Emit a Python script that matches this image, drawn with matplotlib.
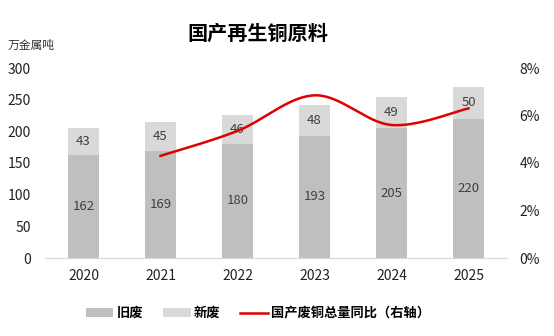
import numpy as np
import matplotlib
matplotlib.use("Agg")
import matplotlib.pyplot as plt
from matplotlib.patches import Patch
from matplotlib.lines import Line2D

plt.rcParams['font.family'] = ['Noto Sans CJK SC', 'DejaVu Sans']

years = ['2020', '2021', '2022', '2023', '2024', '2025']
old_scrap = [162, 169, 180, 193, 205, 220]
new_scrap = [43, 45, 46, 48, 49, 50]
yoy_years = ['2021', '2022', '2023', '2024', '2025']
yoy = [4.3, 5.35, 6.85, 5.6, 6.3]  # percent

fig = plt.figure(figsize=(5.54, 3.36), dpi=100)
ax = fig.add_axes([45/554, 1-258/336, 462/554, 190/336])
ax2 = ax.twinx()

x = np.arange(len(years))
w = 0.39
c_old = '#bfbfbf'
c_new = '#d9d9d9'
ax.bar(x, old_scrap, width=w, color=c_old, zorder=2)
ax.bar(x, new_scrap, width=w, bottom=old_scrap, color=c_new, zorder=2)
for xi, o, n in zip(x, old_scrap, new_scrap):
    ax.text(xi, o/2, str(o), ha='center', va='center', fontsize=9.5, color='#404040')
    ax.text(xi, o + n/2, str(n), ha='center', va='center', fontsize=9.5, color='#404040')

ax.set_xlim(-0.5, len(years)-0.5)
ax.set_ylim(0, 300)
ax.set_yticks(range(0, 301, 50))
ax.set_xticks(x)
ax.set_xticklabels(years)
ax.tick_params(axis='both', length=0, labelsize=10, colors='#222222')
ax.tick_params(axis='y', pad=10)
ax.tick_params(axis='x', pad=8)
for s in ['top', 'right', 'left']:
    ax.spines[s].set_visible(False)
ax.spines['bottom'].set_color('#d9d9d9')

# smooth (Catmull-Rom style, like Excel smoothed line)
xp = np.array([years.index(y) for y in yoy_years], dtype=float)
yp = np.array(yoy, dtype=float)
pts = np.column_stack([xp, yp])
curve = []
n = len(pts)
for i in range(n-1):
    p0 = pts[i-1] if i > 0 else pts[i]
    p1 = pts[i]
    p2 = pts[i+1]
    p3 = pts[i+2] if i+2 < n else pts[i+1]
    c1 = p1 + (p2 - p0) / 6
    c2 = p2 - (p3 - p1) / 6
    t = np.linspace(0, 1, 40)[:, None]
    seg = (1-t)**3*p1 + 3*(1-t)**2*t*c1 + 3*(1-t)*t**2*c2 + t**3*p2
    curve.append(seg if i == 0 else seg[1:])
curve = np.vstack(curve)
ax2.plot(curve[:, 0], curve[:, 1], color='#e00000', lw=1.8, zorder=3)
ax2.set_ylim(0, 8)
ax2.set_yticks(range(0, 9, 2))
ax2.set_yticklabels([f'{v}%' for v in range(0, 9, 2)])
ax2.tick_params(axis='y', length=0, labelsize=10, colors='#222222', pad=9)
for s in ax2.spines.values():
    s.set_visible(False)

fig.text(258/554, 1-33/336, '国产再生铜原料', ha='center', va='center',
         fontsize=14.5, fontweight='bold', color='black')
fig.text(8/554, 1-45/336, '万金属吨', ha='left', va='center', fontsize=8.5, color='#333333')

handles = [Patch(facecolor=c_old, edgecolor='none'),
           Patch(facecolor=c_new, edgecolor='none'),
           Line2D([0], [0], color='#e00000', lw=1.8)]
labels = ['旧废', '新废', '国产废铜总量同比（右轴）']
leg = fig.legend(handles, labels, loc='center', bbox_to_anchor=(258/554, 1-313/336),
                 ncol=3, frameon=False, handlelength=2.1, handleheight=0.6,
                 columnspacing=1.5, handletextpad=0.25,
                 prop={'weight': 'bold', 'size': 9.5})
fig.savefig('out.png', dpi=100)
